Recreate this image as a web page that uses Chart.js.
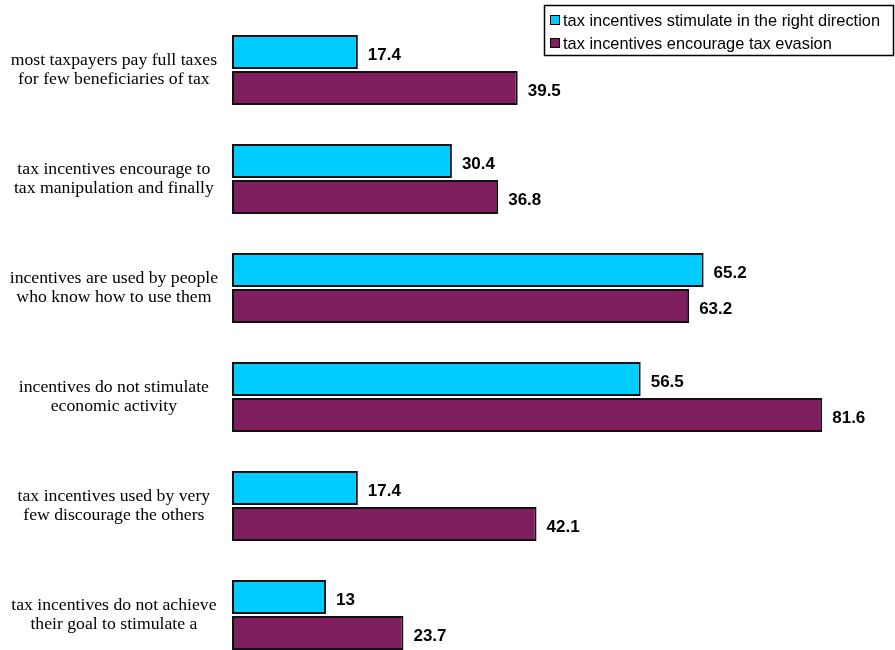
<!DOCTYPE html>
<html>
<head>
<meta charset="utf-8">
<script src="https://cdn.jsdelivr.net/npm/chart.js@4.4.1/dist/chart.umd.min.js"></script>
<style>
  html, body { margin: 0; padding: 0; background: #fff; overflow: hidden; }
  #barChart { display: block; }
</style>
</head>
<body>
<canvas id="barChart" width="895" height="672"></canvas>
<script>
const categories = [
    ['most taxpayers pay full taxes', 'for few beneficiaries of tax'],
    ['tax incentives encourage to', 'tax manipulation and finally'],
    ['incentives are used by people', 'who know how to use them'],
    ['incentives do not stimulate', 'economic activity'],
    ['tax incentives used by very', 'few discourage the others'],
    ['tax incentives do not achieve', 'their goal to stimulate a']
];
const seriesNames = [
    'tax incentives stimulate in the right direction',
    'tax incentives encourage tax evasion'
];
const stimulateValues = [17.4, 30.4, 65.2, 56.5, 17.4, 13];
const evasionValues = [39.5, 36.8, 63.2, 81.6, 42.1, 23.7];
const colors = ['#00ccff', '#7f1f5f'];

// value labels to the right of each bar
const valueLabels = {
    id: 'valueLabels',
    afterDatasetsDraw(chart) {
        const ctx = chart.ctx;
        ctx.save();
        ctx.font = 'bold 17px "Liberation Sans", Arial, sans-serif';
        ctx.fillStyle = '#000';
        ctx.textAlign = 'left';
        ctx.textBaseline = 'middle';
        chart.data.datasets.forEach((ds, i) => {
            chart.getDatasetMeta(i).data.forEach((bar, j) => {
                ctx.fillText(String(ds.data[j]), bar.x + 10, bar.y + 3);
            });
        });
        ctx.restore();
    }
};

// boxed legend in the top right corner
const boxLegend = {
    id: 'boxLegend',
    afterDraw(chart) {
        const ctx = chart.ctx;
        const x = 544, y = 5, w = 349, h = 50;
        ctx.save();
        ctx.fillStyle = '#fff';
        ctx.fillRect(x, y, w, h);
        ctx.strokeStyle = '#000';
        ctx.lineWidth = 1.5;
        ctx.strokeRect(x + 0.5, y + 0.5, w, h);
        ctx.font = '16.4px "Liberation Sans", Arial, sans-serif';
        ctx.textBaseline = 'middle';
        chart.data.datasets.forEach((ds, i) => {
            const cy = 20 + i * 23;
            ctx.fillStyle = ds.backgroundColor;
            ctx.fillRect(551, cy - 4, 8, 8);
            ctx.strokeStyle = '#000';
            ctx.lineWidth = 1;
            ctx.strokeRect(550.5, cy - 4.5, 9, 9);
            ctx.fillStyle = '#000';
            ctx.fillText(ds.label, 563, cy + 1);
        });
        ctx.restore();
    }
};

function initChart() {
    const ctx = document.getElementById('barChart').getContext('2d');

    new Chart(ctx, {
        type: 'bar',
        data: {
            labels: categories,
            datasets: [
                {
                    label: seriesNames[0],
                    data: stimulateValues,
                    backgroundColor: colors[0],
                    borderColor: '#111',
                    borderWidth: 2,
                    borderSkipped: false
                },
                {
                    label: seriesNames[1],
                    data: evasionValues,
                    backgroundColor: colors[1],
                    borderColor: '#111',
                    borderWidth: 2,
                    borderSkipped: false
                }
            ]
        },
        options: {
            indexAxis: 'y',
            responsive: false,
            animation: false,
            categoryPercentage: 0.66,
            barPercentage: 0.94,
            layout: { padding: { top: 15.5, bottom: 2.5, left: 0, right: 12 } },
            plugins: {
                legend: { display: false },
                tooltip: { enabled: false }
            },
            scales: {
                x: {
                    display: false,
                    min: 0,
                    max: 90
                },
                y: {
                    grid: { display: false },
                    border: { display: false },
                    afterFit(scale) {
                        scale.width = 232;
                        scale.paddingTop = 0;
                        scale.paddingBottom = 0;
                    },
                    ticks: {
                        crossAlign: 'center',
                        padding: 6,
                        color: '#000',
                        font: { family: '"Liberation Serif", "Times New Roman", serif', size: 17.7, lineHeight: 1.1 }
                    }
                }
            }
        },
        plugins: [valueLabels, boxLegend]
    });
}

document.addEventListener('DOMContentLoaded', initChart);
</script>
</body>
</html>
